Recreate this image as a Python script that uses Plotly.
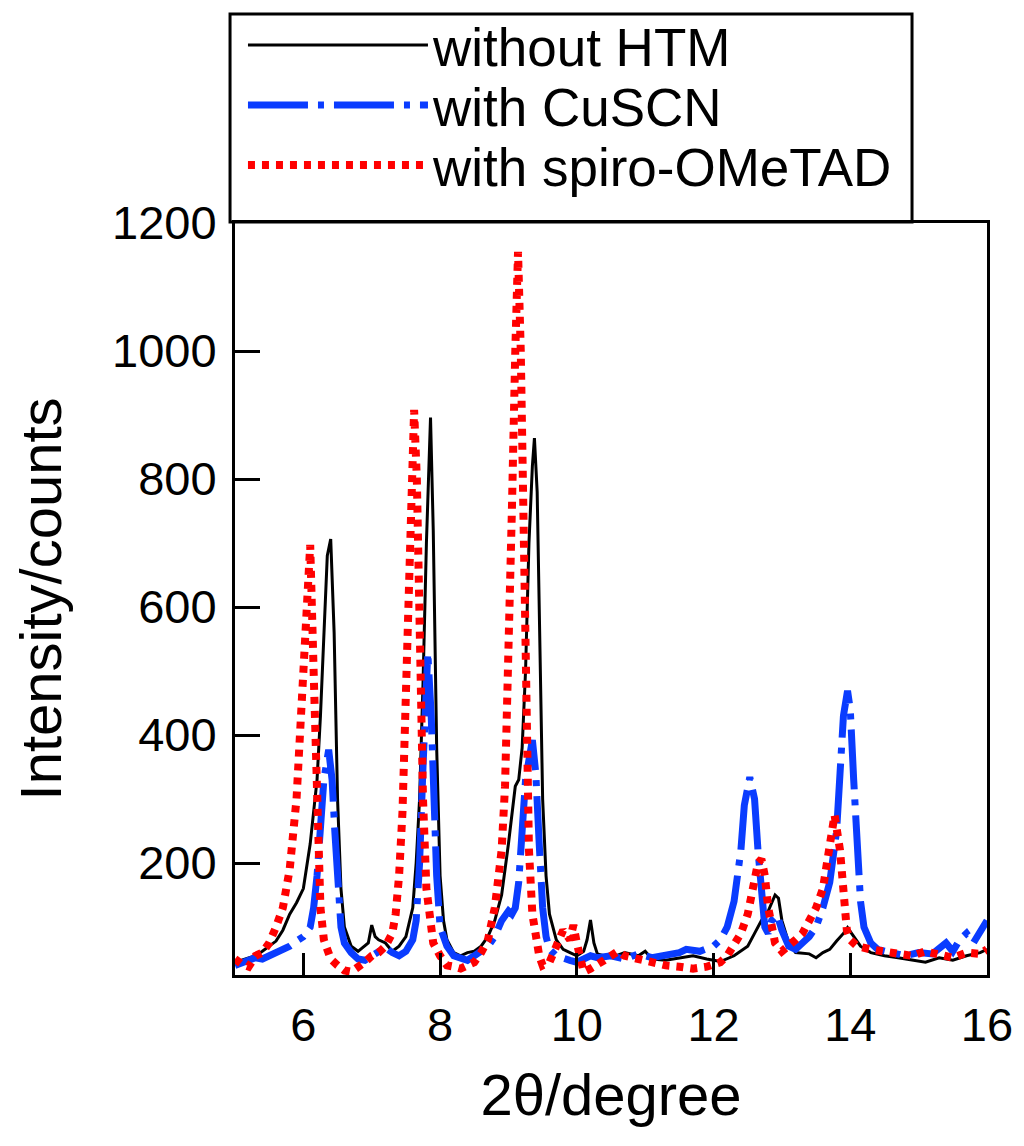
import plotly.graph_objects as go

# 2theta / intensity
x_htm = [5.0, 5.1, 5.2, 5.3, 5.4, 5.5, 5.6, 5.7, 5.8, 5.9, 6.0, 6.1, 6.2, 6.25, 6.3, 6.35, 6.4, 6.45, 6.5, 6.55,
         6.6, 6.7, 6.8, 6.9, 6.95, 7.0, 7.05, 7.1, 7.2, 7.3, 7.4, 7.5, 7.6, 7.65, 7.7, 7.75, 7.8, 7.86, 7.9, 7.95,
         8.0, 8.05, 8.1, 8.2, 8.3, 8.4, 8.5, 8.6, 8.7, 8.8, 8.9, 9.0, 9.1, 9.15, 9.2, 9.25, 9.3, 9.35, 9.38, 9.42,
         9.46, 9.5, 9.55, 9.6, 9.7, 9.8, 9.9, 10.0, 10.1, 10.15, 10.2, 10.25, 10.3, 10.4, 10.5, 10.7, 10.9, 11.0,
         11.1, 11.3, 11.5, 11.7, 11.9, 12.1, 12.3, 12.4, 12.5, 12.6, 12.7, 12.8, 12.9, 12.95, 13.0, 13.1, 13.2,
         13.4, 13.5, 13.6, 13.7, 13.8, 13.9, 13.96, 14.05, 14.15, 14.3, 14.5, 14.7, 14.9, 15.1, 15.3, 15.5, 15.7,
         15.9, 16.0]
y_htm = [45, 48, 52, 55, 62, 70, 78, 95, 120, 138, 160, 230, 330, 430, 560, 680, 706, 560, 300, 160,
         100, 70, 62, 70, 75, 103, 85, 80, 75, 62, 70, 85, 130, 200, 300, 480, 700, 896, 720, 380,
         180, 110, 80, 60, 55, 60, 62, 70, 85, 110, 150, 230, 320, 330, 380, 500, 700, 820, 864, 780,
         520, 300, 180, 120, 80, 65, 60, 55, 62, 80, 111, 75, 58, 55, 52, 60, 55, 62,
         50, 48, 52, 55, 50, 46, 55, 62, 70, 90, 110, 125, 150, 145, 110, 75, 60,
         58, 52, 60, 65, 78, 90, 99, 85, 70, 60, 55, 52, 48, 45, 52, 48, 55,
         60, 65]

x_cuscn = [5.0, 5.1, 5.2, 5.3, 5.4, 5.5, 5.6, 5.7, 5.8, 5.9, 6.0, 6.1, 6.15, 6.2, 6.25, 6.3, 6.37, 6.42, 6.46, 6.5,
           6.55, 6.6, 6.7, 6.8, 6.9, 7.0, 7.1, 7.2, 7.3, 7.4, 7.5, 7.6, 7.65, 7.7, 7.75, 7.82, 7.87, 7.9, 7.95, 8.0,
           8.1, 8.2, 8.3, 8.4, 8.5, 8.6, 8.7, 8.8, 8.9, 9.0, 9.05, 9.1, 9.15, 9.2, 9.25, 9.35, 9.4, 9.45, 9.5, 9.55,
           9.6, 9.7, 9.8, 9.9, 10.0, 10.1, 10.2, 10.3, 10.5, 10.7, 10.9, 11.1, 11.3, 11.5, 11.6, 11.8, 12.0, 12.1,
           12.2, 12.3, 12.4, 12.45, 12.53, 12.6, 12.65, 12.7, 12.75, 12.8, 12.85, 12.93, 13.0, 13.1, 13.2, 13.3,
           13.4, 13.5, 13.6, 13.7, 13.8, 13.85, 13.9, 13.96, 14.0, 14.05, 14.1, 14.15, 14.2, 14.3, 14.4, 14.6,
           14.8, 15.0, 15.2, 15.4, 15.5, 15.6, 15.7, 15.8, 15.9, 16.0]
y_cuscn = [40, 45, 48, 52, 50, 55, 60, 62, 70, 78, 85, 100, 130, 180, 250, 330, 377, 330, 250, 170,
           100, 75, 60, 50, 48, 55, 62, 68, 60, 55, 62, 80, 110, 200, 350, 529, 430, 300, 180, 100,
           70, 55, 50, 48, 55, 62, 70, 85, 110, 125, 120, 130, 170, 250, 330, 392, 340, 230, 130, 85,
           65, 55, 50, 48, 45, 50, 55, 52, 55, 50, 58, 52, 55, 60, 65, 62, 70, 80,
           100, 140, 220, 290, 334, 300, 220, 150, 100, 90, 110, 119, 95, 70, 65, 75,
           85, 100, 130, 170, 250, 340, 430, 469, 440, 330, 220, 140, 100, 75, 65, 60,
           55, 60, 58, 75, 62, 80, 90, 75, 95, 110]

x_spiro = [5.0, 5.1, 5.2, 5.3, 5.4, 5.5, 5.6, 5.7, 5.8, 5.9, 5.95, 6.0, 6.05, 6.1, 6.15, 6.2, 6.25, 6.3, 6.4, 6.5,
           6.6, 6.7, 6.8, 6.9, 7.0, 7.1, 7.2, 7.3, 7.35, 7.4, 7.45, 7.5, 7.55, 7.6, 7.62, 7.66, 7.7, 7.75, 7.8, 7.85,
           7.9, 8.0, 8.1, 8.2, 8.3, 8.4, 8.5, 8.6, 8.7, 8.8, 8.9, 8.95, 9.0, 9.05, 9.1, 9.14, 9.18, 9.22, 9.26, 9.3,
           9.35, 9.4, 9.45, 9.5, 9.6, 9.7, 9.8, 9.9, 9.95, 10.0, 10.05, 10.1, 10.2, 10.3, 10.4, 10.5, 10.6, 10.7,
           10.9, 11.1, 11.3, 11.5, 11.7, 11.9, 12.1, 12.2, 12.3, 12.4, 12.5, 12.6, 12.65, 12.7, 12.75, 12.8, 12.85,
           12.9, 13.0, 13.1, 13.2, 13.3, 13.4, 13.5, 13.6, 13.7, 13.77, 13.85, 13.9, 13.95, 14.0, 14.1, 14.3, 14.5,
           14.7, 14.9, 15.1, 15.3, 15.5, 15.7, 15.9, 16.0]
y_spiro = [50, 42, 38, 55, 60, 75, 100, 130, 190, 300, 400, 520, 620, 697, 500, 250, 130, 80, 50, 40,
           32, 30, 36, 45, 55, 60, 70, 90, 120, 180, 280, 450, 700, 880, 908, 800, 550, 300, 160, 100,
           75, 55, 40, 38, 35, 40, 45, 60, 80, 130, 220, 320, 500, 750, 1000, 1155, 1000, 700, 400, 220,
           120, 80, 55, 40, 45, 70, 95, 80, 103, 75, 45, 30, 35, 40, 48, 55, 62, 55,
           50, 42, 40, 38, 35, 38, 45, 55, 70, 90, 120, 170, 200, 206, 180, 130, 95,
           75, 62, 70, 80, 90, 110, 130, 160, 230, 275, 220, 140, 95, 80, 70, 65, 62,
           58, 55, 62, 58, 52, 60, 58, 65]

y_ticks = [200, 400, 600, 800, 1000, 1200]
x_ticks = [6, 8, 10, 12, 14, 16]

FONT = "Liberation Sans, Arial, sans-serif"
LEG_FONT = dict(family=FONT, size=53, color="black")

fig = go.Figure()
fig.add_trace(go.Scatter(x=x_htm, y=y_htm, mode="lines", name="without HTM", legend="legend",
                         showlegend=True, line=dict(color="black", width=3)))
fig.add_trace(go.Scatter(x=x_cuscn, y=y_cuscn, mode="lines", name="with CuSCN", legend="legend2",
                         line=dict(color="#0a3cff", width=7, dash="60px,10px,6px,10px")))
fig.add_trace(go.Scatter(x=x_spiro, y=y_spiro, mode="lines", name="with spiro-OMeTAD", legend="legend3",
                         line=dict(color="#ff0000", width=8, dash="7px,7px")))

axis_common = dict(showgrid=False, zeroline=False, showline=True, linecolor="black", linewidth=3,
                   mirror=True, ticks="inside", tickcolor="black", tickwidth=3,
                   tickfont=dict(family=FONT, size=47, color="black"))

fig.update_xaxes(range=[5, 16], tickvals=x_ticks, ticklen=22, ticklabelstandoff=7,
                 title=dict(text="2θ/degree", font=dict(family=FONT, size=58, color="black"), standoff=24),
                 **axis_common)
fig.update_yaxes(range=[25, 1200], tickvals=y_ticks, ticklen=25, ticklabelstandoff=6,
                 title=dict(text="Intensity/counts", font=dict(family=FONT, size=58, color="black"), standoff=36),
                 **axis_common)

leg = dict(x=0.0106, xanchor="left", yanchor="middle", bgcolor="rgba(0,0,0,0)",
           borderwidth=0, font=LEG_FONT, itemwidth=180)

fig.update_layout(
    width=1016, height=1138,
    margin=dict(l=227, r=37, t=215, b=171, autoexpand=False),
    plot_bgcolor="white", paper_bgcolor="white",
    showlegend=True,
    legend=dict(y=1.2367, **leg),
    legend2=dict(y=1.1569, **leg),
    legend3=dict(y=1.0771, **leg),
    shapes=[dict(type="rect", xref="paper", yref="paper", x0=-0.0066, x1=0.9003, y0=1.0013, y1=1.278,
                 line=dict(color="black", width=3), fillcolor="rgba(0,0,0,0)", layer="above")],
)

fig.write_html("out.html")
